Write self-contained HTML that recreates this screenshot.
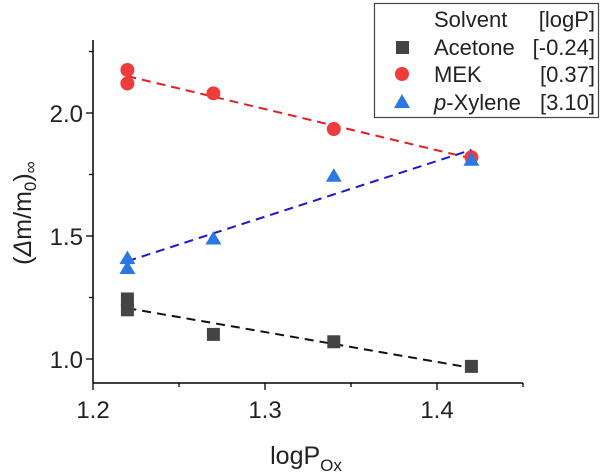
<!DOCTYPE html>
<html><head><meta charset="utf-8"><style>
body{margin:0;background:#fff}
svg{display:block;font-family:"Liberation Sans",sans-serif}
</style></head><body>
<svg id="c" width="600" height="473"></svg>
<script>
const xTicks=[1.2,1.3,1.4];
const yTicks=[1.0,1.5,2.0];
const acetoneX=[1.22,1.22,1.27,1.34,1.42];
const acetoneY=[1.244,1.20,1.10,1.07,0.97];
const mekX=[1.22,1.22,1.27,1.34,1.42];
const mekY=[2.175,2.12,2.08,1.935,1.82];
const xyleneX=[1.22,1.22,1.27,1.34,1.42];
const xyleneY=[1.41,1.37,1.49,1.745,1.81];
const NS="http://www.w3.org/2000/svg";
const svg=document.getElementById('c');
const X0=93,X1=523,Y0=383,Y1=40;
const xmin=1.2,xmax=1.45;
const ymin=1.0-24/246,ymax=1.0+319/246;
const sx=v=>X0+(v-xmin)/(xmax-xmin)*(X1-X0);
const sy=v=>Y0-(v-ymin)/(ymax-ymin)*(Y0-Y1);
function mk(t,a,txt){const e=document.createElementNS(NS,t);for(const k in a)e.setAttribute(k,a[k]);if(txt!=null)e.textContent=txt;svg.appendChild(e);return e;}
let e;
e=mk('line',{x1:X0,y1:Y0,x2:X1,y2:Y0,stroke:'#000','stroke-width':1.5});

e=mk('line',{x1:X0,y1:Y0,x2:X0,y2:Y1,stroke:'#000','stroke-width':1.5});

for(let v=1.2;v<=1.4501;v+=0.05){const x=sx(v);const maj=Math.abs(Math.round(v*10)-v*10)<1e-6;
e=mk('line',{x1:x,y1:Y0,x2:x,y2:Y0+(maj?7:4),stroke:'#000','stroke-width':1.3});
}
xTicks.forEach(v=>{e=mk('text',{x:sx(v),y:418,'font-size':24,'text-anchor':'middle',fill:'#222'},v.toFixed(1));
});
for(let v=1.0;v<=2.2501;v+=0.25){const y=sy(v);const maj=Math.abs(v*2-Math.round(v*2))<1e-6;
e=mk('line',{x1:X0,y1:y,x2:X0-(maj?7:4),y2:y,stroke:'#000','stroke-width':1.3});
}
yTicks.forEach(v=>{e=mk('text',{x:X0-10,y:sy(v)+9,'font-size':24,'text-anchor':'end',fill:'#222'},v.toFixed(1));
});
e=mk('text',{x:X0+213,y:464,'font-size':25,'text-anchor':'middle',fill:'#222'});
e.innerHTML='logP<tspan font-size="17" dy="7">Ox</tspan>';

e=mk('text',{transform:'translate(31,213) rotate(-90)','font-size':25,'text-anchor':'middle',fill:'#222'});
e.innerHTML='(<tspan font-style="italic">Δ</tspan>m/m<tspan font-size="17" dy="5">0</tspan><tspan dy="-5">)</tspan><tspan font-size="17" dy="5">∞</tspan>';

function fit(xs,ys){const n=xs.length;const mx=xs.reduce((a,b)=>a+b)/n,my=ys.reduce((a,b)=>a+b)/n;let num=0,den=0;xs.forEach((x,i)=>{num+=(x-mx)*(ys[i]-my);den+=(x-mx)**2});const b=num/den;return [b,my-b*mx];}
function series(xs,ys,color,lc,shape,name){
const [b,a]=fit(xs,ys);const xa=Math.min(...xs),xb=Math.max(...xs);
e=mk('line',{x1:sx(xa),y1:sy(a+b*xa),x2:sx(xb),y2:sy(a+b*xb),stroke:lc,'stroke-width':2,'stroke-dasharray':'9,6'});

xs.forEach((x,i)=>{const px=sx(x),py=sy(ys[i]);
if(shape==='sq')e=mk('rect',{x:px-6.5,y:py-6.5,width:13,height:13,fill:color});
else if(shape==='ci')e=mk('circle',{cx:px,cy:py,r:7,fill:color});
else e=mk('polygon',{points:`${px},${py-7.5} ${px+8},${py+6} ${px-8},${py+6}`,fill:color});
});}
series(acetoneX,acetoneY,'#444','#111','sq','acetone');
series(mekX,mekY,'#ef3b3b','#e02020','ci','mek');
series(xyleneX,xyleneY,'#2a78e0','#1a1ad0','tr','xylene');
e=mk('rect',{x:374.5,y:3.5,width:224,height:114,fill:'#fff',stroke:'#444','stroke-width':1.2});

const ly=[19,47,74,102];
[['Solvent','[logP]'],['Acetone','[-0.24]'],['MEK','[0.37]'],['-Xylene','[3.10]']].forEach((r,i)=>{
e=mk('text',{x:434,y:ly[i]+8,'font-size':22,fill:'#222'});
e.innerHTML=i===3?'<tspan font-style="italic">p</tspan>-Xylene':r[0];

e=mk('text',{x:595,y:ly[i]+8,'font-size':22,fill:'#222','text-anchor':'end'},r[1]);
});
e=mk('rect',{x:396,y:ly[1]-6,width:13,height:13,fill:'#444'});
e=mk('circle',{cx:402,cy:ly[2],r:7,fill:'#ef3b3b'});
e=mk('polygon',{points:`402,${ly[3]-8} 410,${ly[3]+6} 394,${ly[3]+6}`,fill:'#2a78e0'});
</script>
</body></html>
